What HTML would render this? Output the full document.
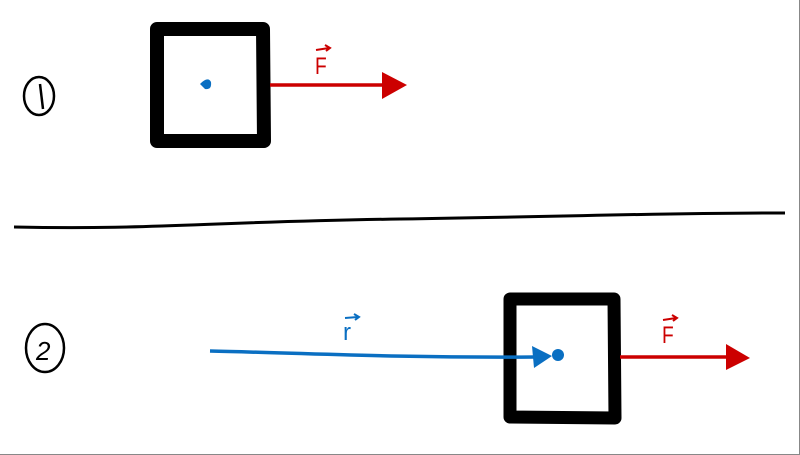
<!DOCTYPE html>
<html><head><style>
html,body{margin:0;padding:0;background:#fff;}
svg{display:block;}
</style></head><body>
<svg width="800" height="455" viewBox="0 0 800 455" xmlns="http://www.w3.org/2000/svg">
<rect x="0" y="0" width="800" height="455" fill="#fff"/>
<path d="M0 454.5 L799.5 454.5 L799.5 0" fill="none" stroke="#888" stroke-width="1"/>
<!-- circle 1 -->
<ellipse cx="39" cy="96" rx="15" ry="19" fill="none" stroke="#000" stroke-width="2.5"/>
<path d="M40 84 L43 109" stroke="#000" stroke-width="2.5" fill="none"/>
<!-- box 1 -->
<path d="M157 29 L263 29 L264 141 L157 141 Z" fill="none" stroke="#000" stroke-width="14" stroke-linejoin="round"/>
<path d="M200 84 Q208 76 211 82 Q212 90 205 89 Z" fill="#0a6fc2"/>
<!-- red arrow 1 -->
<path d="M270 85 L385 85" stroke="#c00" stroke-width="3.5"/>
<path d="M382 72 L407 85 L382 99 Z" fill="#c00"/>
<text x="315" y="74" font-family="Liberation Sans, sans-serif" font-size="24" fill="#c00" transform="translate(315 74) scale(0.8 1) translate(-315 -74)">F</text>
<path d="M316 50 L329 48 M325 45 L330 48 L326 51" stroke="#c00" stroke-width="2" fill="none"/>
<!-- divider -->
<path d="M14 227 C150 230 200 222 400 219 S650 213 785 213" stroke="#000" stroke-width="3" fill="none"/>
<!-- circle 2 -->
<ellipse cx="45" cy="348" rx="19" ry="24" fill="none" stroke="#000" stroke-width="2.5"/>
<text x="36" y="360" font-family="Liberation Sans, sans-serif" font-size="26" font-style="italic" fill="#000">2</text>
<!-- box 2 -->
<path d="M510 299 L614 299 L615 418 L510 417 Z" fill="none" stroke="#000" stroke-width="13" stroke-linejoin="round"/>
<!-- blue -->
<path d="M210 351 C300 353 400 358 535 357" stroke="#0a6fc2" stroke-width="3.5" fill="none"/>
<path d="M532 346 L552 356 L534 368 Z" fill="#0a6fc2"/>
<circle cx="558" cy="355" r="6" fill="#0a6fc2"/>
<text x="343" y="340" font-family="Liberation Sans, sans-serif" font-size="24" fill="#0a6fc2">r</text>
<path d="M345 318 L358 317 M354 314 L359 317 L355 320" stroke="#0a6fc2" stroke-width="2" fill="none"/>
<!-- red arrow 2 -->
<path d="M620 357 L730 357" stroke="#c00" stroke-width="3.5"/>
<path d="M726 344 L750 358 L726 370 Z" fill="#c00"/>
<text x="662" y="343" font-family="Liberation Sans, sans-serif" font-size="24" fill="#c00" transform="translate(662 343) scale(0.8 1) translate(-662 -343)">F</text>
<path d="M663 320 L676 318 M672 315 L677 318 L673 321" stroke="#c00" stroke-width="2" fill="none"/>
</svg>
</body></html>
